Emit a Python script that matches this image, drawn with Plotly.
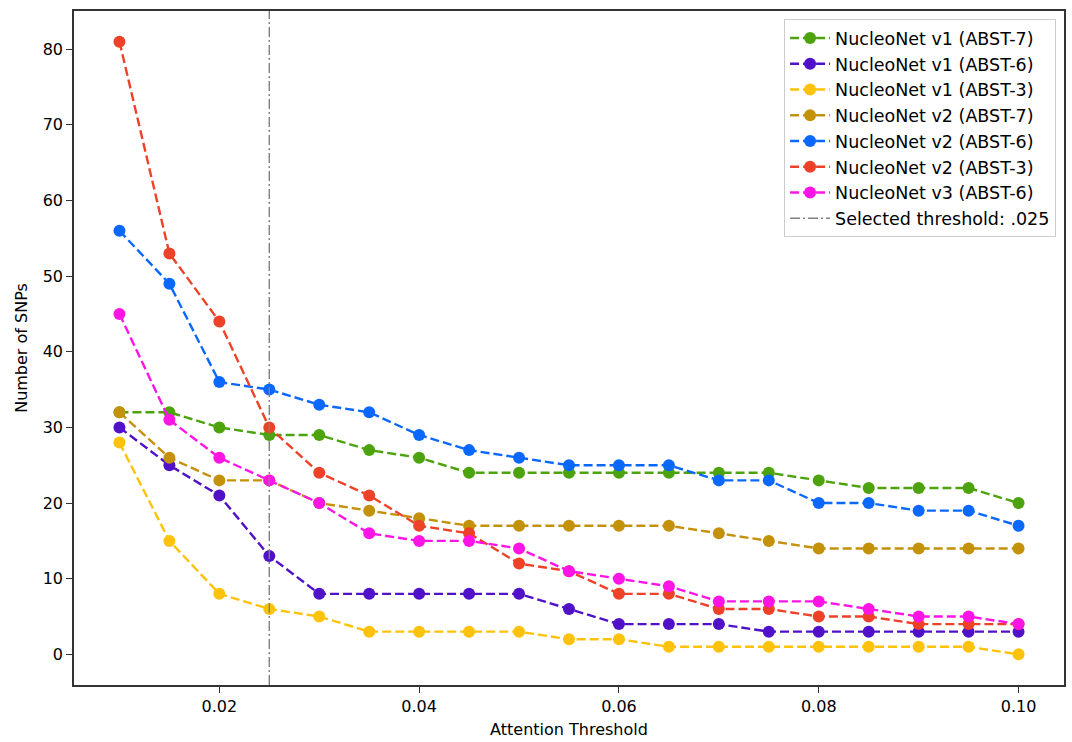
import plotly.graph_objects as go

thresholds = [0.010, 0.015, 0.020, 0.025, 0.030, 0.035, 0.040, 0.045, 0.050, 0.055,
              0.060, 0.065, 0.070, 0.075, 0.080, 0.085, 0.090, 0.095, 0.100]

v1_abst7 = [32, 32, 30, 29, 29, 27, 26, 24, 24, 24, 24, 24, 24, 24, 23, 22, 22, 22, 20]
v1_abst6 = [30, 25, 21, 13, 8, 8, 8, 8, 8, 6, 4, 4, 4, 3, 3, 3, 3, 3, 3]
v1_abst3 = [28, 15, 8, 6, 5, 3, 3, 3, 3, 2, 2, 1, 1, 1, 1, 1, 1, 1, 0]
v2_abst7 = [32, 26, 23, 23, 20, 19, 18, 17, 17, 17, 17, 17, 16, 15, 14, 14, 14, 14, 14]
v2_abst6 = [56, 49, 36, 35, 33, 32, 29, 27, 26, 25, 25, 25, 23, 23, 20, 20, 19, 19, 17]
v2_abst3 = [81, 53, 44, 30, 24, 21, 17, 16, 12, 11, 8, 8, 6, 6, 5, 5, 4, 4, 4]
v3_abst6 = [45, 31, 26, 23, 20, 16, 15, 15, 14, 11, 10, 9, 7, 7, 7, 6, 5, 5, 4]

series_names = ["NucleoNet v1 (ABST-7)", "NucleoNet v1 (ABST-6)", "NucleoNet v1 (ABST-3)",
                "NucleoNet v2 (ABST-7)", "NucleoNet v2 (ABST-6)", "NucleoNet v2 (ABST-3)",
                "NucleoNet v3 (ABST-6)"]
series_values = [v1_abst7, v1_abst6, v1_abst3, v2_abst7, v2_abst6, v2_abst3, v3_abst6]
series_colors = ["#4CA30D", "#5011C8", "#FFC20A", "#C4910A", "#0A68FF", "#EE4228", "#FF14E6"]

selected_threshold = 0.025
threshold_label = "Selected threshold: .025"

x_range = [0.00545, 0.10455]
y_range = [-4.05, 85.05]

FS = 16
LFS = 17.5

fig = go.Figure()
for i, (name, vals, col) in enumerate(zip(series_names, series_values, series_colors)):
    fig.add_trace(go.Scatter(
        x=thresholds, y=vals, name=name, mode="lines+markers",
        line=dict(color=col, width=2.4, dash="9px,4px"),
        marker=dict(color=col, size=12),
        legendgroup=f"g{i}",
    ))

fig.add_trace(go.Scatter(
    x=[selected_threshold, selected_threshold], y=y_range, name=threshold_label,
    mode="lines", line=dict(color="#808080", width=1.4, dash="10px,3px,2px,3px"),
    legendgroup="thr", hoverinfo="skip",
))

fig.update_layout(
    width=1072, height=742,
    margin=dict(l=74, r=6, t=11, b=55),
    paper_bgcolor="white", plot_bgcolor="white",
    font=dict(family="DejaVu Sans", size=FS, color="black"),
    showlegend=True,
    legend=dict(
        x=0.992, y=0.988, xanchor="right", yanchor="top",
        bgcolor="rgba(255,255,255,0.9)", bordercolor="#cccccc", borderwidth=1,
        font=dict(size=LFS), tracegroupgap=0, traceorder="grouped",
        itemwidth=40,
    ),
    xaxis=dict(
        range=x_range, tickvals=[0.02, 0.04, 0.06, 0.08, 0.10], tickformat=".2f",
        showgrid=False, zeroline=False, showline=True, linecolor="#333333", linewidth=1.5,
        mirror=True, ticks="outside", ticklen=6, tickcolor="#333333", tickwidth=1.2,
        title=dict(text="Attention Threshold", font=dict(size=FS), standoff=9),
    ),
    yaxis=dict(
        range=y_range, tickvals=[0, 10, 20, 30, 40, 50, 60, 70, 80],
        showgrid=False, zeroline=False, showline=True, linecolor="#333333", linewidth=1.5,
        mirror=True, ticks="outside", ticklen=6, tickcolor="#333333", tickwidth=1.2,
        title=dict(text="Number of SNPs", font=dict(size=FS), standoff=11),
    ),
)

fig.write_html("out.html")
